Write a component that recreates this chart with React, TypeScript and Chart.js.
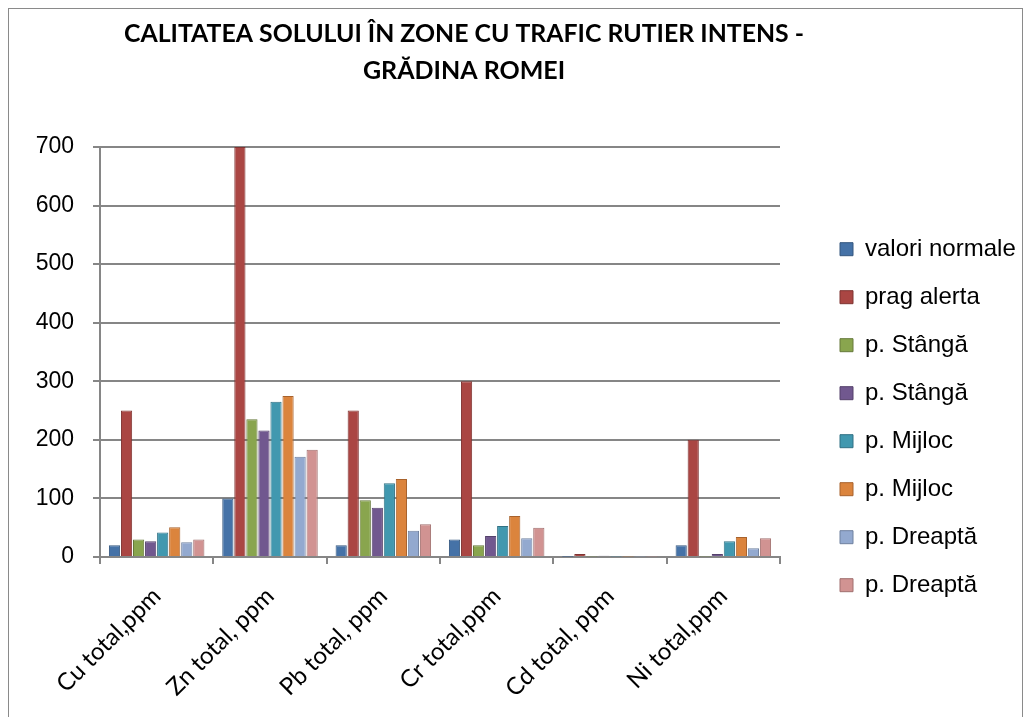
import React, { useEffect, useRef } from "react";
import { Chart, registerables } from "chart.js";

Chart.register(...registerables);

const categories = ["Cu total,ppm", "Zn total, ppm", "Pb total, ppm", "Cr total,ppm", "Cd total, ppm", "Ni total,ppm"];
const seriesNames = ["valori normale", "prag alerta", "p. Stângă", "p. Stângă", "p. Mijloc", "p. Mijloc", "p. Dreaptă", "p. Dreaptă"];
const valoriNormale = [20, 100, 20, 30, 0.5, 20];
const pragAlerta = [250, 700, 250, 300, 5, 200];
const stanga1 = [30, 235, 97, 20, 1, 1];
const stanga2 = [27, 216, 84, 36, 2, 5];
const mijloc1 = [42, 265, 126, 53, 1, 27];
const mijloc2 = [51, 275, 133, 70, 1, 34];
const dreapta1 = [25, 171, 45, 32, 1, 15];
const dreapta2 = [30, 183, 56, 50, 1, 32];
const yTicks = [0, 100, 200, 300, 400, 500, 600, 700];
const titleLines = ["CALITATEA SOLULUI ÎN ZONE CU TRAFIC RUTIER INTENS -", "GRĂDINA ROMEI"];

const seriesValues = [valoriNormale, pragAlerta, stanga1, stanga2, mijloc1, mijloc2, dreapta1, dreapta2];
const colors = ["#4572A7", "#AA4643", "#89A54E", "#71588F", "#4198AF", "#DB843D", "#93A9CF", "#D19392"];
const borders = ["#34577f", "#7f3432", "#66793a", "#54416b", "#307184", "#a8622c", "#6f819f", "#a06f6e"];

const layoutTweaks = {
  id: "layoutTweaks",
  beforeInit(chart: any) {
    const lg = chart.legend;
    if (lg) {
      const orig = lg.fit.bind(lg);
      lg.fit = function () {
        orig();
        this.width = 242;
      };
    }
  },
  afterLayout(chart: any) {
    const lg = chart.legend;
    if (lg) {
      const w = lg.right - lg.left;
      lg.left = 807;
      lg.right = 807 + w;
    }
    const tb = chart.titleBlock;
    if (tb) {
      tb.left += 24;
      tb.right += 24;
    }
  },
};

export default function App() {
  const ref = useRef<HTMLCanvasElement>(null);
  useEffect(() => {
    if (!ref.current) return;
    const chart = new Chart(ref.current, {
      type: "bar",
      data: {
        labels: categories,
        datasets: seriesValues.map((v, i) => ({
          label: seriesNames[i],
          data: v,
          backgroundColor: colors[i],
          borderColor: borders[i],
          borderWidth: 1,
          categoryPercentage: 0.85,
          barPercentage: 0.93,
        })),
      },
      plugins: [layoutTweaks],
      options: {
        animation: false,
        responsive: true,
        maintainAspectRatio: false,
        layout: { padding: { left: 10, right: 0, top: 0, bottom: 0 } },
        plugins: {
          title: {
            display: true,
            text: titleLines,
            fullSize: false,
            color: "#000",
            font: { family: "Lato", size: 25, weight: "bold", lineHeight: 1.48 },
            padding: { top: 6, bottom: 58 },
          },
          legend: {
            position: "right",
            align: "center",
            title: { display: true, text: "", padding: 46 },
            labels: {
              color: "#000",
              font: { family: "Liberation Sans", size: 24 },
              boxWidth: 13,
              boxHeight: 13,
              padding: 24,
            },
          },
          tooltip: { enabled: false },
        },
        scales: {
          x: {
            afterFit: (axis: any) => {
              axis.height = 162;
            },
            grid: { display: true, drawOnChartArea: false, offset: true, color: "#868686", lineWidth: 2, tickLength: 7 },
            border: { display: true, color: "#868686", width: 2 },
            ticks: {
              color: "#000",
              font: { family: "Lato", size: 24 },
              minRotation: 45,
              maxRotation: 45,
              padding: 18,
            },
          },
          y: {
            min: 0,
            max: 700,
            afterFit: (axis: any) => {
              axis.width = 81;
            },
            afterBuildTicks: (axis: any) => {
              axis.ticks = yTicks.map((v) => ({ value: v }));
            },
            grid: { color: "#868686", lineWidth: 2, tickLength: 7 },
            border: { display: true, color: "#868686", width: 2 },
            ticks: {
              color: "#000",
              font: { family: "Liberation Sans", size: 23 },
              padding: 19,
            },
          },
        },
      },
    });
    return () => chart.destroy();
  }, []);
  return (
    <div style={{ width: 1015, height: 712, border: "1px solid #8a8a8a", background: "#fff", boxSizing: "border-box", position: "relative" }}>
      <canvas ref={ref} />
    </div>
  );
}
